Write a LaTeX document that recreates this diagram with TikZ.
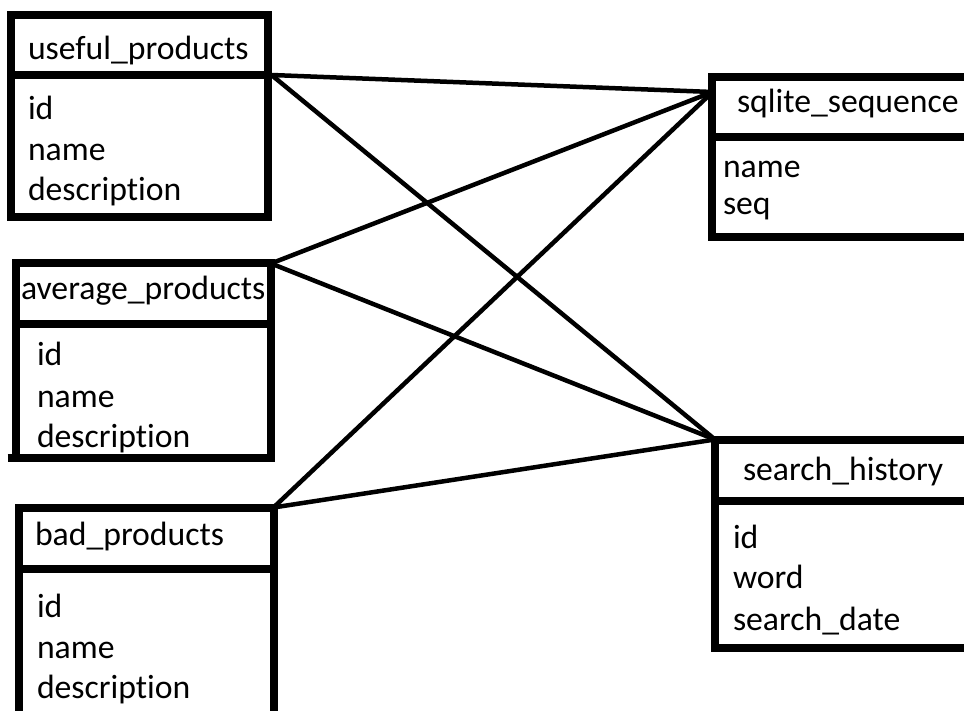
\documentclass[tikz,border=0pt]{standalone}
\usepackage{fontspec}
\setmainfont{Carlito}[Ligatures=NoCommon]
\usetikzlibrary{calc}
\tikzset{
  tablebox/.style={draw=black, line width=8pt, outer sep=0pt, inner sep=0pt, anchor=north west},
  divider/.style={draw=black, line width=8pt},
  link/.style={draw=black, line width=4.5pt},
  lbl/.style={anchor=base west, inner sep=0pt, outer sep=0pt, font=\fontsize{33.7}{40}\selectfont},
}
\begin{document}
\begin{tikzpicture}[x=1pt,y=-1pt]
\useasboundingbox (0,0) rectangle (964,711);
\clip (0,0) rectangle (964,711);
\fill[white] (0,0) rectangle (964,711);

% tables
\node[tablebox, minimum width=256.5pt, minimum height=202.5pt] (useful) at (11,15) {};
\node[tablebox, minimum width=255.5pt, minimum height=194pt] (average) at (15.5,263.5) {};
\node[tablebox, minimum width=255pt, minimum height=260pt] (bad) at (18.5,507.5) {};
\node[tablebox, minimum width=300pt, minimum height=160.5pt] (sqlite) at (711.5,77) {};
\node[tablebox, minimum width=300pt, minimum height=208pt] (hist) at (715,439.5) {};

% dividers
\draw[divider] ($(useful.north west)+(0,60.5)$) -- ($(useful.north east)+(0,60.5)$);
\draw[divider] ($(average.north west)+(0,60.5)$) -- ($(average.north east)+(0,60.5)$);
\draw[divider] ($(bad.north west)+(0,61.5)$) -- ($(bad.north east)+(0,61.5)$);
\draw[divider] ($(sqlite.north west)+(0,60)$) -- ($(sqlite.north east)+(0,60)$);
\draw[divider] ($(hist.north west)+(0,61)$) -- ($(hist.north east)+(0,61)$);
\draw[divider] ($(average.south west)+(-8,0)$) -- (average.south west);

% texts
\node[lbl] (ut) at (28,60) {useful\_products};
\node[lbl] (u1) at (28,120) {id};
\node[lbl] (u2) at (28,161) {name};
\node[lbl] (u3) at (28,201) {description};

\node[lbl] (at) at (21,300) {average\_products};
\node[lbl] (a1) at (37,365) {id};
\node[lbl] (a2) at (37,407) {name};
\node[lbl] (a3) at (37,447) {description};

\node[lbl] (bt) at (35,545) {bad\_products};
\node[lbl] (b1) at (37,617) {id};
\node[lbl] (b2) at (37,658) {name};
\node[lbl] (b3) at (37,698) {description};

\node[lbl] (st) at (737,113) {sqlite\_sequence};
\node[lbl] (s1) at (723,178) {name};
\node[lbl] (s2) at (723,215) {seq};

\node[lbl] (ht) at (743,480) {search\_history};
\node[lbl] (h1) at (733,548) {id};
\node[lbl] (h2) at (733,588) {word};
\node[lbl] (h3) at (733,630) {search\_date};

% connectors
\coordinate (uout) at ($(useful.north east)+(4,60)$);
\coordinate (sqin) at ($(sqlite.north west)+(1,15)$);
\draw[link] (uout) -- (sqin);
\draw[link] (uout) -- (hist.north west);
\draw[link] (average.north east) -- (sqin);
\draw[link] (average.north east) -- (hist.north west);
\draw[link] (bad.north east) -- (sqin);
\draw[link] (bad.north east) -- (hist.north west);
\end{tikzpicture}
\end{document}
